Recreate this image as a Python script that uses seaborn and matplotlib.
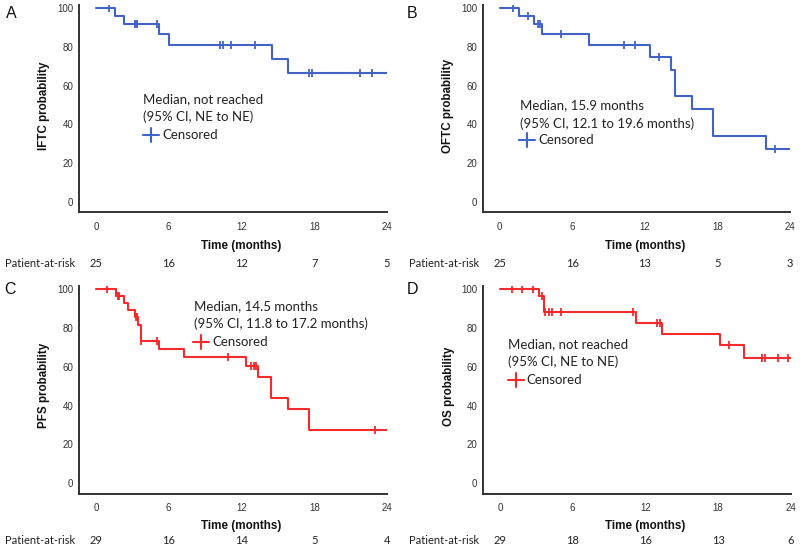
import numpy as np
import pandas as pd
import matplotlib.pyplot as plt
import seaborn as sns

sns.set_theme(style="white")
plt.rcParams['font.family'] = ['Lato', 'DejaVu Sans']

W, H = 800, 556
BLUE = '#4263c4'
RED = '#f42a2c'

months = [0, 6, 12, 18, 24]
yticks = [0, 20, 40, 60, 80, 100]

# ---- data (time in months, survival in %) ----
iftc_event_t = [1.6, 2.3, 5.2, 6.05, 14.5, 15.8]
iftc_event_s = [96, 92, 86.4, 80.8, 73.5, 66.3]
iftc_cens_t = [1.1, 3.2, 3.3, 3.4, 5.0, 10.2, 10.5, 11.1, 13.1, 17.6, 17.8, 21.8, 22.8]
iftc_risk = [25, 16, 12, 7, 5]

oftc_event_t = [1.6, 2.8, 3.5, 7.35, 12.4, 14.16, 14.5, 15.9, 17.65, 22.0]
oftc_event_s = [96, 91.8, 86.4, 80.8, 74.9, 67.9, 54.4, 47.7, 34.0, 27.2]
oftc_cens_t = [1.13, 2.37, 3.2, 3.3, 5.07, 10.27, 11.2, 13.2, 22.8]
oftc_risk = [25, 16, 13, 5, 3]

pfs_event_t = [1.65, 2.3, 2.66, 3.2, 3.5, 3.7, 5.2, 7.26, 12.4, 13.4, 14.45, 15.84, 17.6]
pfs_event_s = [96.5, 92.8, 89.1, 85.6, 81.6, 73.2, 69.2, 64.9, 60.5, 54.9, 43.8, 38.5, 27.3]
pfs_cens_t = [0.93, 1.8, 1.9, 3.3, 3.4, 3.75, 5.0, 10.9, 12.8, 13.0, 13.2, 23.0]
pfs_risk = [29, 16, 14, 5, 4]

os_event_t = [3.25, 3.66, 11.25, 13.4, 18.2, 20.15]
os_event_s = [96.5, 88.1, 82.8, 77.2, 71.2, 64.7]
os_cens_t = [0.96, 1.84, 2.7, 3.44, 3.75, 4.02, 4.28, 5.04, 10.97, 12.95, 13.17, 18.9, 21.65, 21.9, 22.98, 23.75]
os_risk = [29, 18, 16, 13, 6]


def px(x, y):
    return x / W, 1 - y / H


def make_axes(fig, x0, x24, y100, y0, xlim=(-1.4, 24), ylim=(-5.4, 101.5)):
    sx = (x24 - x0) / 24.0
    sy = (y0 - y100) / 100.0
    left = x0 + xlim[0] * sx
    right = x0 + xlim[1] * sx
    top = y0 - ylim[1] * sy
    bottom = y0 - ylim[0] * sy
    ax = fig.add_axes([left / W, 1 - bottom / H, (right - left) / W, (bottom - top) / H])
    ax.set_xlim(*xlim)
    ax.set_ylim(*ylim)
    return ax


def draw_panel(fig, ax, letter, ylabel, color, ev_t, ev_s, cens_t, risk, geo):
    t = [0] + list(ev_t) + [24]
    s = [100] + list(ev_s) + [ev_s[-1]]
    sns.lineplot(x=t, y=s, ax=ax, color=color, lw=1.5, drawstyle='steps-post',
                 estimator=None, sort=False)
    idx = np.searchsorted(ev_t, cens_t, side='right')
    cs = [100 if i == 0 else ev_s[i - 1] for i in idx]
    sns.scatterplot(x=cens_t, y=cs, ax=ax, marker='|', s=32, color=color,
                    linewidth=1.3, zorder=3)

    ax.set_xticks(months)
    ax.set_yticks(yticks)
    ax.set_xlabel('')
    ax.set_ylabel('')
    for sp in ['top', 'right']:
        ax.spines[sp].set_visible(False)
    for sp in ['left', 'bottom']:
        ax.spines[sp].set_color('#333333')
        ax.spines[sp].set_linewidth(1.4)
    ax.tick_params(axis='both', direction='out', length=3, width=0.8, color='#555555',
                   labelsize=7, labelcolor='#333333')
    ax.tick_params(axis='x', pad=3.5)
    ax.tick_params(axis='y', pad=1)
    for lab in ax.get_xticklabels() + ax.get_yticklabels():
        lab.set_family('Liberation Sans')

    x0, x24, y100, y0 = geo['axis']
    sx = (x24 - x0) / 24.0
    lx, ly = geo['letter']
    fig.text(*px(lx, ly), letter, fontsize=11.5, family='Liberation Sans',
             color='#111111', ha='center', va='center')
    yx, yy = geo['ylabel']
    fig.text(*px(yx, yy), ylabel, fontsize=8.4, family='Liberation Sans',
             weight='bold', rotation=90, ha='center', va='center', color='#111111')
    tx, ty = geo['xlabel']
    fig.text(*px(tx, ty), 'Time (months)', fontsize=8.4, family='Liberation Sans',
             weight='bold', ha='center', va='center', color='#111111')
    rl, ry = geo['risk']
    fig.text(*px(rl, ry), 'Patient-at-risk', fontsize=8, ha='left', va='center',
             color='#222222')
    for m, n in zip(months, risk):
        fig.text(*px(x0 + m * sx, ry), str(n), fontsize=8, ha='center', va='center',
                 color='#222222')

    al, a1, a2, a3, pc, cl = geo['note']
    fig.text(*px(al, a1), geo['lines'][0], fontsize=9.5, ha='left', va='center',
             color='#222222')
    fig.text(*px(al, a2), geo['lines'][1], fontsize=9.5, ha='left', va='center',
             color='#222222')
    fig.text(*px(cl, a3), 'Censored', fontsize=9.5, ha='left', va='center',
             color='#222222')
    fig.lines.append(plt.Line2D([px(pc - 8, a3)[0], px(pc + 8, a3)[0]],
                                [px(pc, a3)[1]] * 2, color=color, lw=1.5,
                                transform=fig.transFigure))
    fig.lines.append(plt.Line2D([px(pc, a3)[0]] * 2,
                                [px(pc, a3 - 7)[1], px(pc, a3 + 7)[1]], color=color,
                                lw=1.5, transform=fig.transFigure))


fig = plt.figure(figsize=(8, 5.56), dpi=100)

panels = [
    dict(letter='A', ylabel='IFTC probability', color=BLUE, ev_t=iftc_event_t,
         ev_s=iftc_event_s, cens_t=iftc_cens_t, risk=iftc_risk,
         geo=dict(axis=(96, 387, 8, 202), letter=(11, 13), ylabel=(44, 106),
                  xlabel=(241, 246), risk=(5, 264),
                  note=(143, 99, 117, 135, 151, 162),
                  lines=['Median, not reached', '(95% CI, NE to NE)'])),
    dict(letter='B', ylabel='OFTC probability', color=BLUE, ev_t=oftc_event_t,
         ev_s=oftc_event_s, cens_t=oftc_cens_t, risk=oftc_risk,
         geo=dict(axis=(499.7, 790, 8, 202), letter=(412, 13), ylabel=(448, 106),
                  xlabel=(645, 246), risk=(409, 264),
                  note=(520, 105, 124, 140, 527, 538),
                  lines=['Median, 15.9 months', '(95% CI, 12.1 to 19.6 months)'])),
    dict(letter='C', ylabel='PFS probability', color=RED, ev_t=pfs_event_t,
         ev_s=pfs_event_s, cens_t=pfs_cens_t, risk=pfs_risk,
         geo=dict(axis=(96, 387, 289.3, 483.3), letter=(10, 289), ylabel=(44, 385),
                  xlabel=(241, 525.5), risk=(5, 540),
                  note=(194, 306, 324, 342, 201, 212.5),
                  lines=['Median, 14.5 months', '(95% CI, 11.8 to 17.2 months)'])),
    dict(letter='D', ylabel='OS probability', color=RED, ev_t=os_event_t,
         ev_s=os_event_s, cens_t=os_cens_t, risk=os_risk,
         geo=dict(axis=(500, 790.7, 289.3, 483.3), letter=(412, 289), ylabel=(449, 386),
                  xlabel=(645, 526.5), risk=(409, 540),
                  note=(507.7, 344, 362, 380, 515.5, 526.5),
                  lines=['Median, not reached', '(95% CI, NE to NE)'])),
]

for p in panels:
    x0, x24, y100, y0 = p['geo']['axis']
    ax = make_axes(fig, x0, x24, y100, y0)
    draw_panel(fig, ax, p['letter'], p['ylabel'], p['color'], p['ev_t'], p['ev_s'],
               p['cens_t'], p['risk'], p['geo'])

fig.savefig('out.png', dpi=100, facecolor='white')
